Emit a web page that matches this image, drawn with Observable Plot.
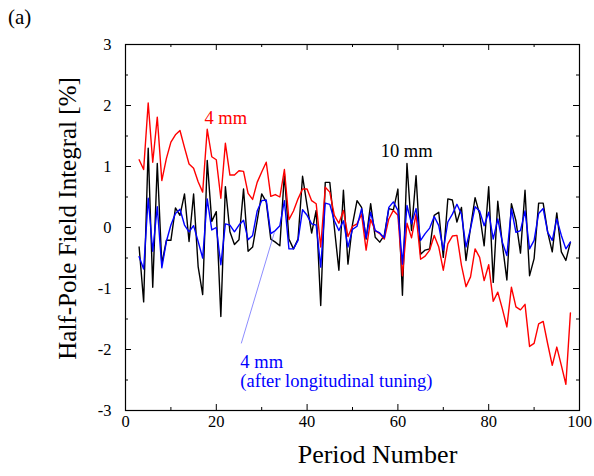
<!DOCTYPE html>
<html><head><meta charset="utf-8">
<script src="https://cdn.jsdelivr.net/npm/d3@7"></script>
<script src="https://cdn.jsdelivr.net/npm/@observablehq/plot@0.6"></script>
<style>
body{margin:0;background:#fff;}
#wrap{position:relative;width:594px;height:476px;font-family:"Liberation Serif","Times New Roman",serif;}
#tag{position:absolute;left:8px;top:5px;font-size:21px;color:#000;}
svg{display:block;}
svg text{font-family:"Liberation Serif","Times New Roman",serif !important;}
</style></head><body><div id="wrap"><div id="tag">(a)</div></div>
<script>
const startPeriod = 3;
const red4mm = [1.11,0.95,2.04,1.07,1.81,0.77,1.13,1.40,1.52,1.59,1.31,1.04,0.97,0.75,0.58,1.61,1.16,1.11,0.48,1.38,0.86,0.86,0.93,0.92,0.56,0.46,0.74,0.91,1.07,0.51,0.54,0.50,0.95,0.13,0.27,0.47,0.63,0.63,0.44,0.39,-0.32,0.66,0.58,0.20,0.07,0.28,-0.15,0.02,0.06,0.22,-0.37,0.13,-0.05,-0.10,-0.19,0.14,0.28,0.20,-0.79,0.07,-0.17,0.22,-0.52,-0.47,-0.37,-0.13,-0.32,-0.70,-0.27,-0.14,-0.13,-0.62,-0.97,-0.81,-0.35,-0.49,-0.87,-0.61,-1.21,-1.06,-1.33,-1.63,-0.98,-1.30,-1.35,-1.26,-1.95,-1.90,-1.58,-1.54,-1.91,-2.26,-1.96,-2.26,-2.57,-1.40];
const black10mm = [-0.32,-1.22,1.30,-0.98,1.05,-0.6,-0.21,-0.21,0.32,0.20,0.55,-0.23,0.55,-0.64,-1.10,1.10,0.10,0.26,-1.46,0.67,-0.07,-0.28,-0.20,0.63,-0.39,-0.32,0.11,0.55,0.42,-0.19,-0.24,-0.30,0.88,-0.19,-0.35,-0.19,0.84,0.36,-0.09,0.28,-1.28,0.74,0.74,0.0,-0.70,0.61,-0.60,0.05,0.44,0.33,-0.19,0.39,-0.16,-0.24,-0.13,0.31,0.29,0.63,-1.11,1.05,-0.05,0.85,-0.44,-0.37,-0.35,0.20,0.25,-0.49,0.47,0.45,0.09,0.33,-0.54,0.0,0.49,0.22,-0.30,0.67,-0.90,0.43,-0.27,-0.86,0.39,0.11,-0.42,0.61,-0.79,-0.51,0.40,0.40,-0.08,-0.40,0.24,-0.40,-0.54,-0.24];
const blueTuned = [-0.48,-0.68,0.48,-0.39,0.34,-0.66,-0.23,0.04,0.23,0.30,0.04,-0.07,0.03,-0.23,-0.50,0.47,-0.04,0.0,-0.61,0.06,0.04,-0.07,0.04,0.12,-0.20,-0.13,0.27,0.44,0.45,-0.10,-0.05,0.03,0.44,-0.35,-0.35,-0.21,0.29,0.20,0.06,0.04,-0.65,0.40,0.38,0.11,-0.05,0.11,-0.32,-0.03,0.02,0.31,-0.17,0.25,-0.05,-0.09,-0.17,0.33,0.42,0.28,-0.60,0.36,0.06,0.31,-0.21,-0.10,-0.01,0.18,0.03,-0.37,0.09,0.22,0.38,0.22,-0.32,-0.02,0.34,0.27,0.03,0.25,-0.19,0.14,-0.24,-0.46,0.31,-0.08,-0.05,0.27,-0.35,-0.21,0.23,0.31,-0.08,-0.21,0.14,-0.13,-0.35,-0.24];
const xTicks = [0,20,40,60,80,100];
const xMinor = [10,30,50,70,90];
const yTicks = [-3,-2,-1,0,1,2,3];
const yMinor = [-2.5,-1.5,-0.5,0.5,1.5,2.5];
const annLabels = ["4 mm","10 mm","4 mm","(after longitudinal tuning)"];
const annColors = ["#ff0000","#000000","#0000ff","#0000ff"];
const annX = [17.4,56.2,25.3,25.3];
const annY = [1.69,1.15,-2.30,-2.62];
const pointer = {x1:25.5,y1:-1.90,x2:32.8,y2:-0.08};
const xTitle = "Period Number";
const yTitle = "Half-Pole Field Integral [%]";

const W = 594, H = 476, mL = 125, mR = 15, mT = 44, mB = 66;
const fw = W - mL - mR, fh = H - mT - mB;
const rows = (arr) => arr.map((v,i)=>({period:startPeriod+i, value:v}));
const ann = annLabels.map((t,i)=>({text:t, color:annColors[i], period:annX[i], value:annY[i]}));
const fmt = d => String(d);
const [xMin, xMax] = [xTicks[0], xTicks[xTicks.length-1]];
const [yMin, yMax] = [yTicks[0], yTicks[yTicks.length-1]];
const tk = {stroke:"#000", strokeWidth:1};

const chart = Plot.plot({
  width:W, height:H,
  marginLeft:mL, marginRight:mR, marginTop:mT, marginBottom:mB,
  style:{fontFamily:"Liberation Serif", fontSize:"16.5px", background:"white", color:"black"},
  x:{domain:[xMin,xMax]},
  y:{domain:[yMin,yMax]},
  color:{type:"identity"},
  marks:[
    Plot.axisX({anchor:"bottom", ticks:xTicks, tickSize:0, tickPadding:5, tickFormat:fmt, label:null, fontVariant:"normal"}),
    Plot.axisY({anchor:"left", ticks:yTicks, tickSize:0, tickPadding:14, tickFormat:fmt, label:null, fontVariant:"normal"}),
    Plot.tickX(xTicks, {x:d=>d, insetTop:fh-6, ...tk}),
    Plot.tickX(xMinor, {x:d=>d, insetTop:fh-3, ...tk}),
    Plot.tickX(xTicks, {x:d=>d, insetBottom:fh-6, ...tk}),
    Plot.tickX(xMinor, {x:d=>d, insetBottom:fh-3, ...tk}),
    Plot.tickY(yTicks, {y:d=>d, insetRight:fw-6, ...tk}),
    Plot.tickY(yMinor, {y:d=>d, insetRight:fw-3, ...tk}),
    Plot.tickY(yTicks, {y:d=>d, insetLeft:fw-6, ...tk}),
    Plot.tickY(yMinor, {y:d=>d, insetLeft:fw-3, ...tk}),
    Plot.line(rows(black10mm), {x:"period", y:"value", stroke:"#000000", strokeWidth:1.4}),
    Plot.line(rows(red4mm), {x:"period", y:"value", stroke:"#ff0000", strokeWidth:1.4}),
    Plot.line(rows(blueTuned), {x:"period", y:"value", stroke:"#0000ff", strokeWidth:1.4}),
    Plot.link([pointer], {x1:"x1", y1:"y1", x2:"x2", y2:"y2", stroke:"#7070ff", strokeWidth:0.8}),
    Plot.text(ann, {x:"period", y:"value", text:"text", fill:"color", textAnchor:"start", lineAnchor:"bottom", fontSize:18.5}),
    Plot.text([xTitle], {frameAnchor:"bottom", text:d=>d, dx:25, dy:52, textAnchor:"middle", lineAnchor:"bottom", fontSize:26}),
    Plot.text([yTitle], {frameAnchor:"left", text:d=>d, rotate:-90, dx:-58, dy:-9, textAnchor:"middle", lineAnchor:"middle", fontSize:25}),
    Plot.frame({stroke:"#000", strokeWidth:1.2})
  ]
});
document.getElementById("wrap").appendChild(chart);
</script></body></html>
